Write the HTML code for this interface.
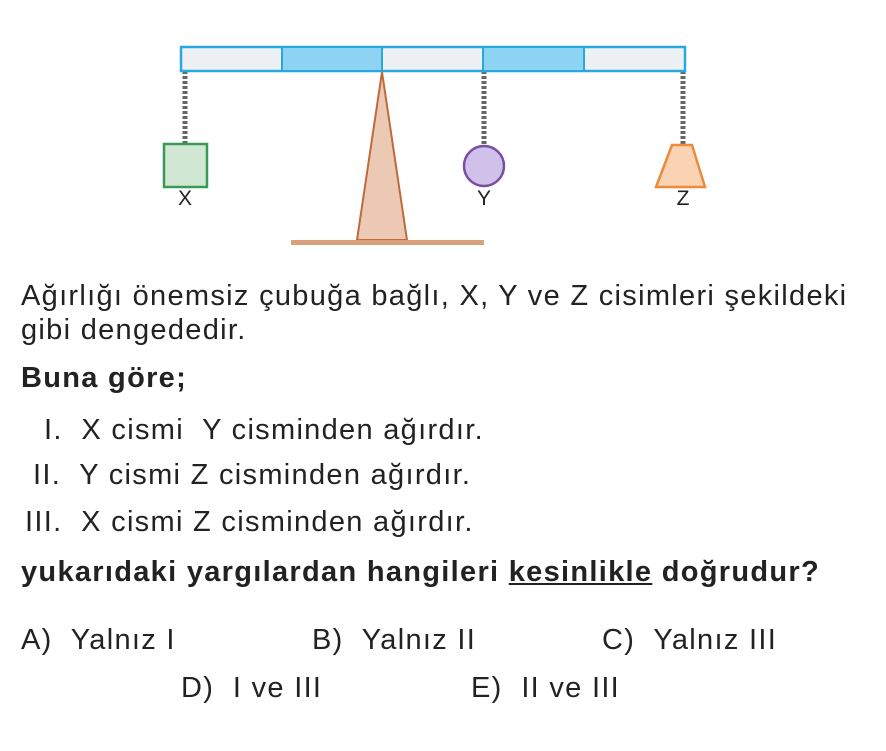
<!DOCTYPE html>
<html><head><style>
body{margin:0;background:#fff;width:886px;height:751px;position:relative;overflow:hidden;font-family:"Liberation Sans",Arial,sans-serif;color:#222;}
.t{position:absolute;font-size:29px;letter-spacing:1.3px;white-space:nowrap;line-height:1;}
b{font-weight:bold;}
</style></head><body>
<svg width="886" height="260" style="position:absolute;left:0;top:0">
<g stroke="#666" stroke-width="5" stroke-dasharray="3,2">
<line x1="185" y1="71" x2="185" y2="144"/>
<line x1="484" y1="71" x2="484" y2="146"/>
<line x1="683" y1="71" x2="683" y2="144"/>
</g>
<rect x="181" y="47" width="504" height="24" fill="#eef1f3" stroke="#29a8e0" stroke-width="2.5"/>
<rect x="282" y="48" width="100" height="22" fill="#8dd3f3"/>
<rect x="483" y="48" width="101" height="22" fill="#8dd3f3"/>
<g stroke="#29a8e0" stroke-width="2"><line x1="282" y1="47" x2="282" y2="71"/><line x1="382" y1="47" x2="382" y2="71"/><line x1="483" y1="47" x2="483" y2="71"/><line x1="584" y1="47" x2="584" y2="71"/></g>
<polygon points="382,72 357,240 407,240" fill="#ecc9b5" stroke="#c06a3a" stroke-width="2"/>
<rect x="291" y="240" width="193" height="5" fill="#d9a07a"/>
<rect x="164" y="144" width="43" height="43" fill="#cfe7d3" stroke="#3a9a55" stroke-width="2.5"/>
<circle cx="484" cy="166" r="20" fill="#cfc1ea" stroke="#7a4fa3" stroke-width="2.5"/>
<polygon points="672,145 692,145 705,187 656,187" fill="#f9d3b3" stroke="#ef8a3a" stroke-width="2.5"/>
<g font-family="Liberation Sans,Arial,sans-serif" font-size="21" fill="#222" text-anchor="middle">
<text x="185" y="205">X</text><text x="484" y="205">Y</text><text x="683" y="205">Z</text>
</g>
</svg>
<div class="t" style="left:21px;top:282px">Ağırlığı önemsiz çubuğa bağlı, X, Y ve Z cisimleri şekildeki</div>
<div class="t" style="left:21px;top:316px">gibi dengededir.</div>
<div class="t" style="left:21px;top:364px"><b>Buna göre;</b></div>
<div class="t" style="left:44px;top:416px">I.&nbsp; X cismi&nbsp; Y cisminden ağırdır.</div>
<div class="t" style="left:33px;top:461px">II.&nbsp; Y cismi Z cisminden ağırdır.</div>
<div class="t" style="left:25px;top:508px">III.&nbsp; X cismi Z cisminden ağırdır.</div>
<div class="t" style="left:21px;top:558px"><b>yukarıdaki yargılardan hangileri <span style="text-decoration:underline">kesinlikle</span> doğrudur?</b></div>
<div class="t" style="left:21px;top:626px">A)&nbsp; Yalnız I</div>
<div class="t" style="left:312px;top:626px">B)&nbsp; Yalnız II</div>
<div class="t" style="left:602px;top:626px">C)&nbsp; Yalnız III</div>
<div class="t" style="left:181px;top:674px">D)&nbsp; I ve III</div>
<div class="t" style="left:471px;top:674px">E)&nbsp; II ve III</div>
</body></html>
